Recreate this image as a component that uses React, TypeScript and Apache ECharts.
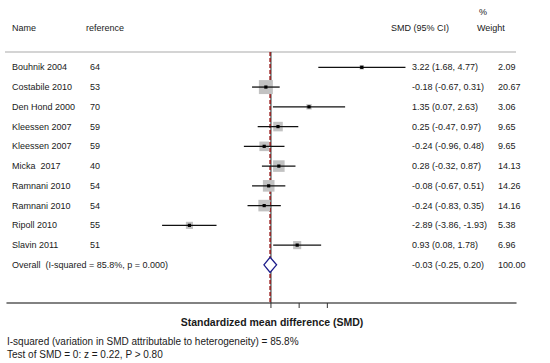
import React, { useEffect, useRef } from "react";
import * as echarts from "echarts";

const studyNames = [
  "Bouhnik 2004",
  "Costabile 2010",
  "Den Hond 2000",
  "Kleessen 2007",
  "Kleessen 2007",
  "Micka  2017",
  "Ramnani 2010",
  "Ramnani 2010",
  "Ripoll 2010",
  "Slavin 2011",
];
const references = ["64", "53", "70", "59", "59", "40", "54", "54", "55", "51"];
const smd = [3.22, -0.18, 1.35, 0.25, -0.24, 0.28, -0.08, -0.24, -2.89, 0.93];
const lower = [1.68, -0.67, 0.07, -0.47, -0.96, -0.32, -0.67, -0.83, -3.86, 0.08];
const upper = [4.77, 0.31, 2.63, 0.97, 0.48, 0.87, 0.51, 0.35, -1.93, 1.78];
const weights = [2.09, 20.67, 3.06, 9.65, 9.65, 14.13, 14.26, 14.16, 5.38, 6.96];

const overallLabel = "Overall  (I-squared = 85.8%, p = 0.000)";
const overallSmd = -0.03;
const overallLower = -0.25;
const overallUpper = 0.2;
const overallWeight = 100.0;

const nullValue = 0;
const xTicks = [0, 1, 2];
const axisTitle = "Standardized mean difference (SMD)";
const footLines = [
  "I-squared (variation in SMD attributable to heterogeneity) = 85.8%",
  "Test of SMD = 0: z = 0.22, P > 0.80",
];

const X_MIN = -9.36;
const X_MAX = 8.69;
const Y_MIN = -0.775;
const Y_MAX = 11.93;

const FONT = "'Liberation Sans', Arial, sans-serif";
const TXT = "#1a1a1a";

function fmt(v: number) {
  return v.toFixed(2);
}

function txt(text: string, x: number, y: number, size = 9, weight: any = "normal", align = "left") {
  return {
    type: "text",
    style: {
      text,
      x,
      y,
      fill: TXT,
      fontSize: size,
      fontWeight: weight,
      fontFamily: FONT,
      textAlign: align,
      align,
      textVerticalAlign: "middle",
      verticalAlign: "middle",
    },
  };
}

export default function App() {
  const ref = useRef<HTMLDivElement>(null);
  useEffect(() => {
    if (!ref.current) return;
    const chart = echarts.init(ref.current, null, { renderer: "svg" });

    const studyData = smd.map((v, i) => [v, i, lower[i], upper[i], weights[i]]);
    const tableData = studyNames.map((n, i) => [0, i]);
    const overallRow = studyNames.length;

    const option: any = {
      animation: false,
      backgroundColor: "#ffffff",
      grid: { left: 7, width: 509, top: 52, height: 251 },
      xAxis: {
        type: "value",
        min: X_MIN,
        max: X_MAX,
        splitLine: { show: false },
        axisLabel: { show: false },
        axisLine: { show: true, onZero: false, lineStyle: { color: "#5a5a5a", width: 1.5 } },
        axisTick: { show: false },
      },
      yAxis: {
        type: "value",
        inverse: true,
        min: Y_MIN,
        max: Y_MAX,
        show: false,
      },
      graphic: [
        {
          type: "line",
          shape: { x1: 5, y1: 52, x2: 516, y2: 52 },
          style: { stroke: "#d4d4d4", lineWidth: 2 },
        },
        txt("%", 479, 12),
        txt("Name", 12, 28),
        txt("reference", 86, 28),
        txt("SMD (95% CI)", 391, 28),
        txt("Weight", 477, 28),
        txt(axisTitle, 272, 322, 10.5, "bold", "center"),
        txt(footLines[0], 7, 341, 10),
        txt(footLines[1], 7, 354, 10),
      ],
      series: [
        {
          type: "custom",
          data: xTicks.map((t) => [t, Y_MAX]),
          clip: false,
          renderItem: (params: any, api: any) => {
            const p = api.coord([api.value(0), api.value(1)]);
            return {
              type: "line",
              shape: { x1: p[0], y1: p[1], x2: p[0], y2: p[1] + 5 },
              style: { stroke: "#333", lineWidth: 1 },
            };
          },
          z: 2,
        },
        {
          type: "custom",
          data: [[nullValue, overallSmd]],
          renderItem: (params: any, api: any) => {
            const a0 = api.coord([api.value(0), Y_MIN]);
            const a1 = api.coord([api.value(0), Y_MAX]);
            const b0 = api.coord([api.value(1), Y_MIN]);
            const b1 = api.coord([api.value(1), Y_MAX]);
            return {
              type: "group",
              children: [
                {
                  type: "line",
                  shape: { x1: a0[0], y1: a0[1], x2: a1[0], y2: a1[1] },
                  style: { stroke: "#222", lineWidth: 1 },
                },
                {
                  type: "line",
                  shape: { x1: b0[0], y1: b0[1], x2: b1[0], y2: b1[1] },
                  style: { stroke: "#9b1c1c", lineWidth: 1.5, lineDash: [4, 2] },
                },
              ],
            };
          },
          z: 2,
        },
        {
          type: "custom",
          data: studyData,
          renderItem: (params: any, api: any) => {
            const v = api.value(0);
            const row = api.value(1);
            const lo = api.value(2);
            const hi = api.value(3);
            const w = api.value(4);
            const c = api.coord([v, row]);
            const l = api.coord([lo, row]);
            const h = api.coord([hi, row]);
            const side = 14 * Math.sqrt(w / 20.67);
            return {
              type: "group",
              children: [
                {
                  type: "rect",
                  shape: { x: c[0] - side / 2, y: c[1] - side / 2, width: side, height: side },
                  style: { fill: "#c2c2c2" },
                },
                {
                  type: "line",
                  shape: { x1: l[0], y1: c[1], x2: h[0], y2: c[1] },
                  style: { stroke: "#111", lineWidth: 1.3 },
                },
                {
                  type: "rect",
                  shape: { x: c[0] - 1.6, y: c[1] - 1.6, width: 3.2, height: 3.2 },
                  style: { fill: "#000" },
                },
              ],
            };
          },
          z: 3,
        },
        {
          type: "custom",
          data: [[overallSmd, overallRow, overallLower, overallUpper]],
          renderItem: (params: any, api: any) => {
            const row = api.value(1);
            const c = api.coord([api.value(0), row]);
            const l = api.coord([api.value(2), row]);
            const h = api.coord([api.value(3), row]);
            const hh = 7.5;
            return {
              type: "polygon",
              shape: {
                points: [
                  [l[0], c[1]],
                  [c[0], c[1] - hh],
                  [h[0], c[1]],
                  [c[0], c[1] + hh],
                ],
              },
              style: { fill: "#ffffff", stroke: "#1c1c8a", lineWidth: 1.3 },
            };
          },
          z: 4,
        },
        {
          type: "custom",
          data: tableData,
          renderItem: (params: any, api: any) => {
            const i = params.dataIndex;
            const y = api.coord([0, api.value(1)])[1];
            return {
              type: "group",
              children: [
                txt(studyNames[i], 12, y),
                txt(references[i], 90, y),
                txt(`${fmt(smd[i])} (${fmt(lower[i])}, ${fmt(upper[i])})`, 412, y),
                txt(fmt(weights[i]), 498, y),
              ],
            };
          },
          z: 5,
        },
        {
          type: "custom",
          data: [[0, overallRow]],
          renderItem: (params: any, api: any) => {
            const y = api.coord([0, api.value(1)])[1];
            return {
              type: "group",
              children: [
                txt(overallLabel, 12, y),
                txt(
                  `${fmt(overallSmd)} (${fmt(overallLower)}, ${fmt(overallUpper)})`,
                  412,
                  y
                ),
                txt(fmt(overallWeight), 498, y),
              ],
            };
          },
          z: 5,
        },
      ],
    };
    chart.setOption(option);
    return () => chart.dispose();
  }, []);
  return (
    <div
      ref={ref}
      style={{ position: "absolute", left: 0, top: 0, width: 550, height: 363 }}
    />
  );
}
